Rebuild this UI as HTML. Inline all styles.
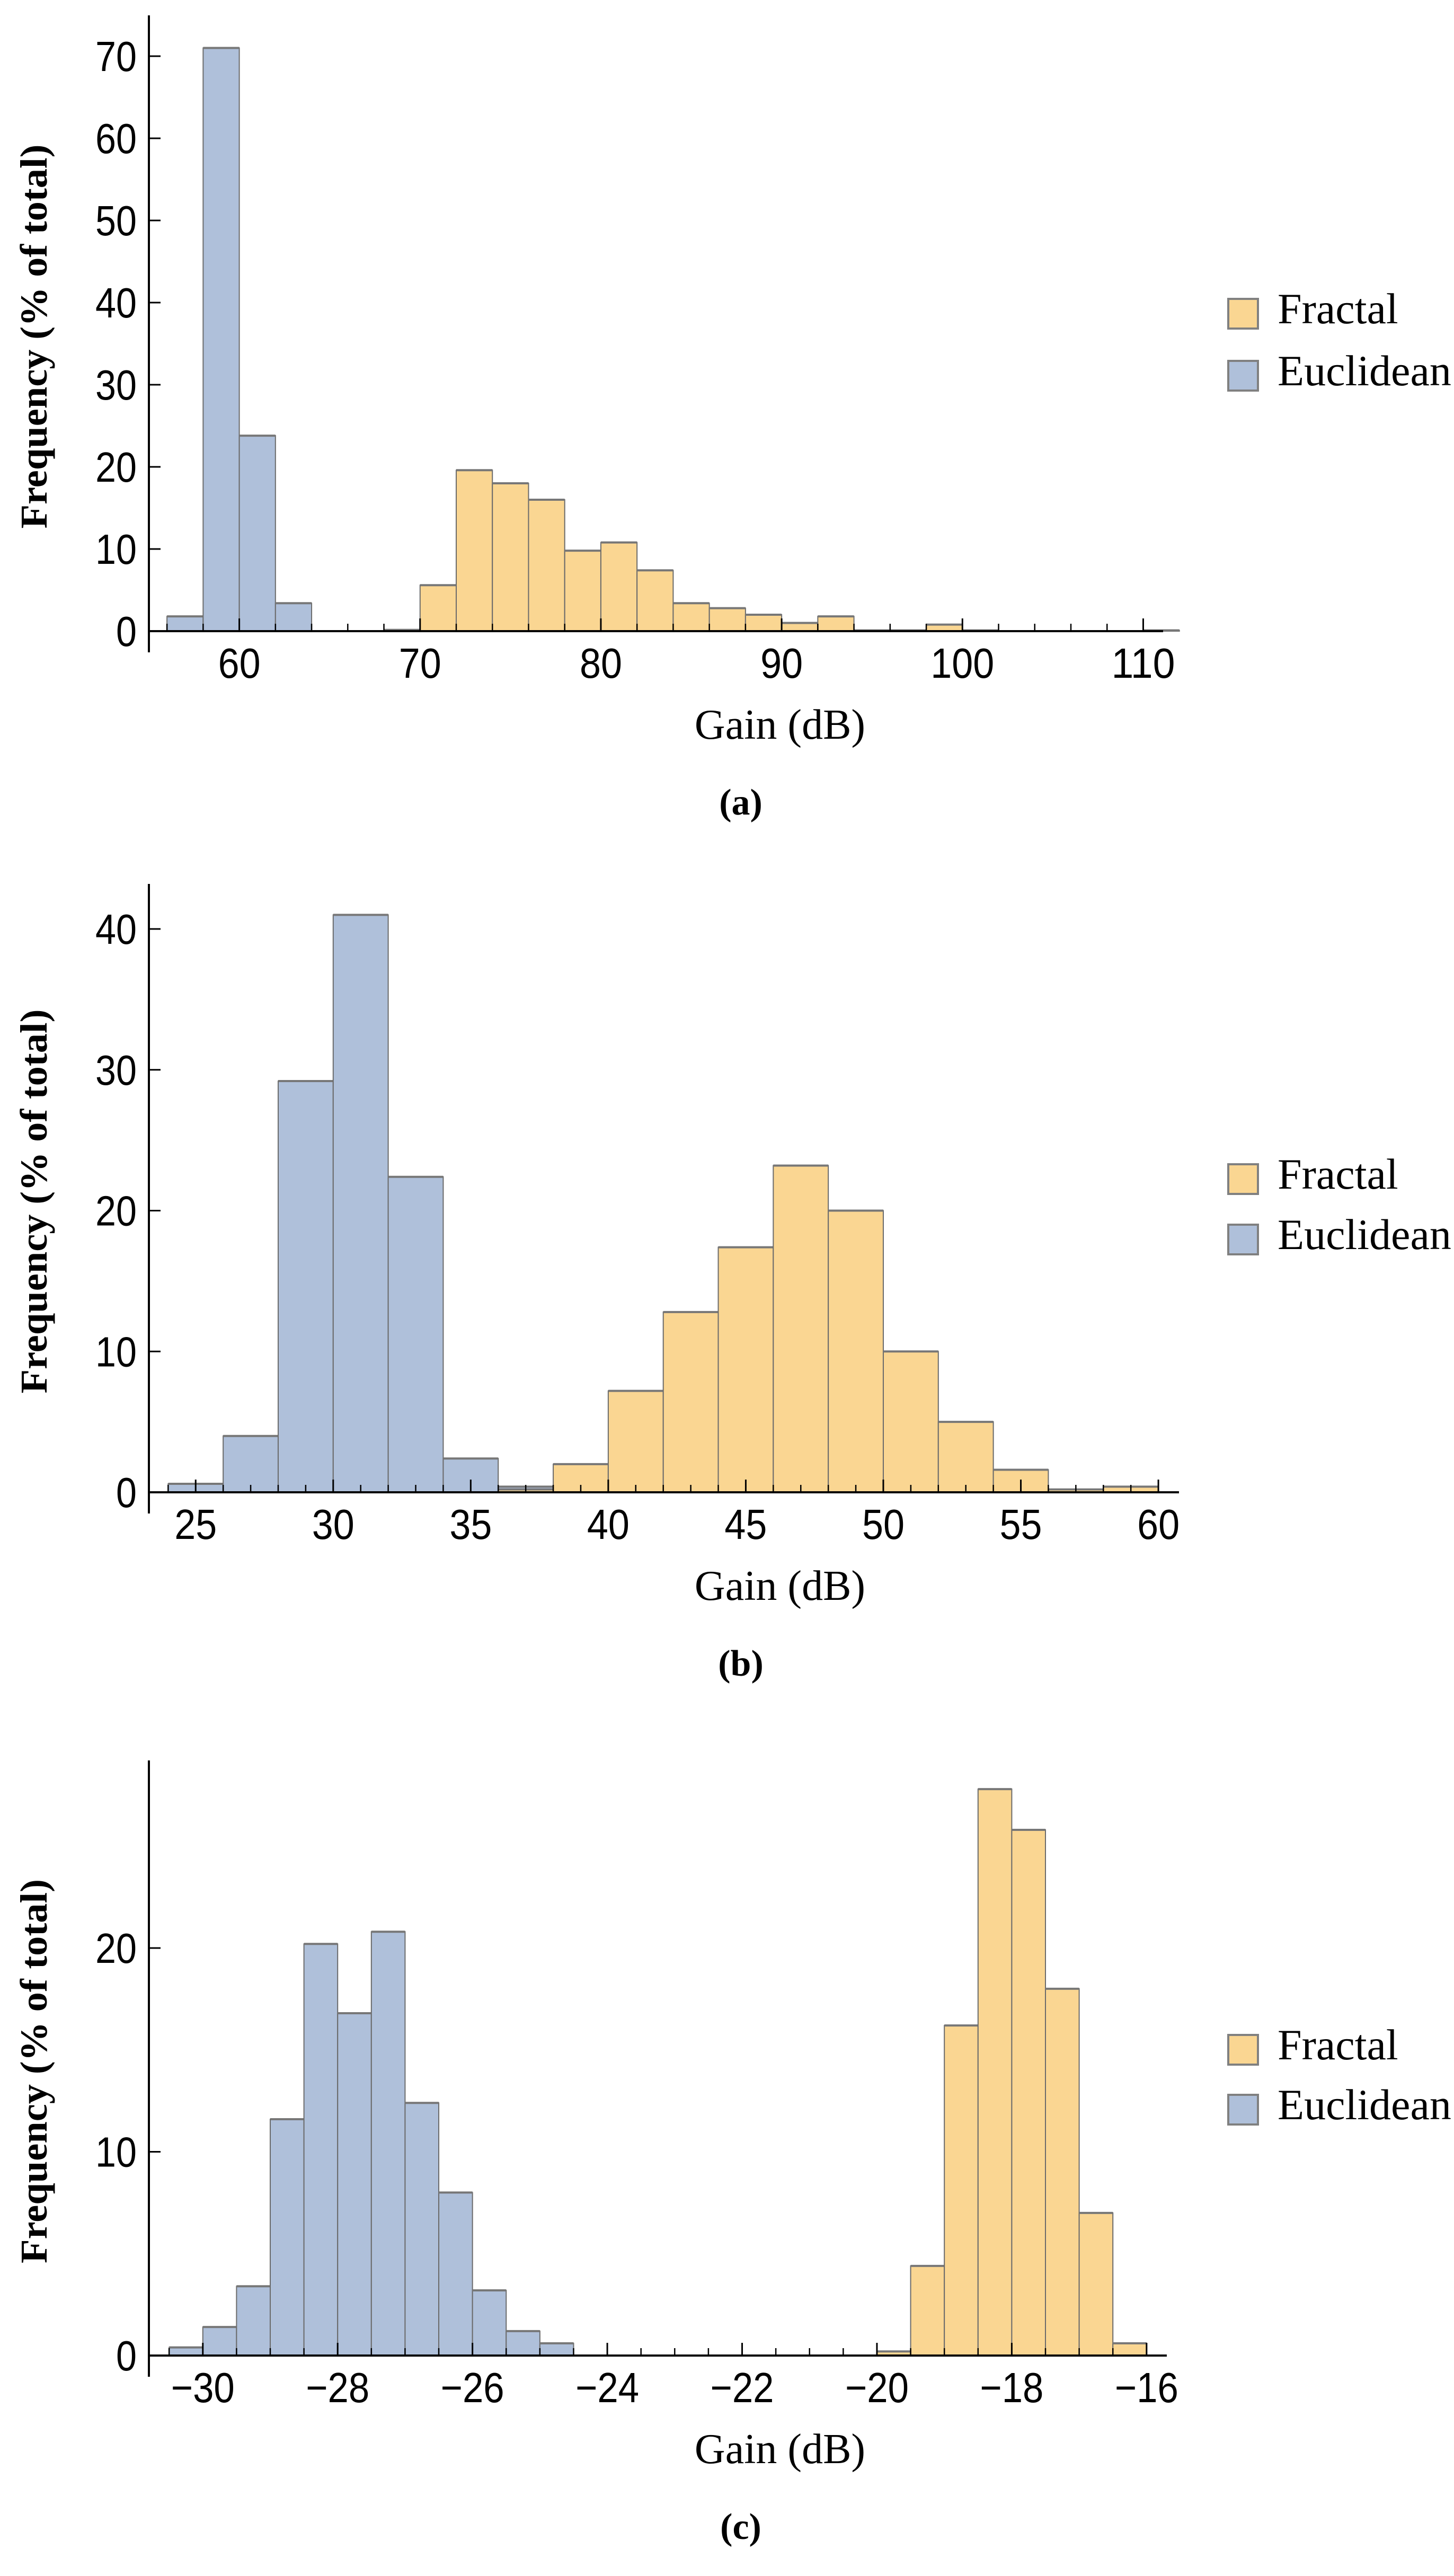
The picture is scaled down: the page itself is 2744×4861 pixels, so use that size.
<!DOCTYPE html>
<html><head><meta charset="utf-8"><style>html,body{margin:0;padding:0;background:#fff}svg{display:block}</style></head>
<body>
<svg id="fig" xmlns="http://www.w3.org/2000/svg" width="2744" height="4861" viewBox="0 0 2744 4861"></svg>
<script>
// Panel (a)
const aBinStart=56, aBinWidth=2;
const aEuclid=[1.8,71,23.8,3.4];
const aFracStart=68;
const aFractal=[0.15,5.6,19.6,18,16,9.8,10.8,7.4,3.4,2.8,2.0,1.0,1.8,0.1,0.1,0.8,0.1,0,0,0,0,0.1];
const aXTicks=[60,70,80,90,100,110];
const aYTicks=[0,10,20,30,40,50,60,70];
// Panel (b)
const bBinStart=24, bBinWidth=2;
const bEuclid=[0.6,4,29.2,41,22.4,2.4,0.4];
const bFracStart=36;
const bFractal=[0.2,2.0,7.2,12.8,17.4,23.2,20,10,5,1.6,0.2,0.4];
const bXTicks=[25,30,35,40,45,50,55,60];
const bYTicks=[0,10,20,30,40];
// Panel (c)
const cBinStart=-30.5, cBinWidth=0.5;
const cEuclid=[0.4,1.4,3.4,11.6,20.2,16.8,20.8,12.4,8,3.2,1.2,0.6];
const cFracStart=-20;
const cFractal=[0.2,4.4,16.2,27.8,25.8,18,7,0.6];
const cXTicks=[-30,-28,-26,-24,-22,-20,-18,-16];
const cYTicks=[0,10,20];

const NS="http://www.w3.org/2000/svg";
const svg=document.getElementById('fig');
function mk(tag,attrs,parent){const e=document.createElementNS(NS,tag);for(const k in attrs)e.setAttribute(k,attrs[k]);(parent||svg).appendChild(e);return e;}

const FR="#fad692", EU="#afc0da";
const panels=[
 {id:'a',cap:'(a)',x0:55,x1:111.1,y0:1191,yPer:15.5,yTop:29,xL:281,xR:2195,
  binStart:aBinStart,bw:aBinWidth,eu:aEuclid,frStart:aFracStart,fr:aFractal,xt:aXTicks,yt:aYTicks,minor:2,
  leg:[564,681]},
 {id:'b',cap:'(b)',x0:23.3,x1:60.75,y0:2816,yPer:26.575,yTop:1668,xL:281,xR:2225,
  binStart:bBinStart,bw:bBinWidth,eu:bEuclid,frStart:bFracStart,fr:bFractal,xt:bXTicks,yt:bYTicks,minor:1,
  leg:[2197,2311]},
 {id:'c',cap:'(c)',x0:-30.8,x1:-15.7,y0:4445,yPer:38.45,yTop:3322,xL:281,xR:2202,
  binStart:cBinStart,bw:cBinWidth,eu:cEuclid,frStart:cFracStart,fr:cFractal,xt:cXTicks,yt:cYTicks,minor:0.5,
  leg:[3840,3953]}
];

panels.forEach(p=>{
  const g=mk('g',{});
  
  
  const X=v=>p.xL+(v-p.x0)/(p.x1-p.x0)*(p.xR-p.xL);
  const Y=v=>p.y0-v*p.yPer;
  function bars(arr,start,fill,name){
    arr.forEach((v,i)=>{
      const a=X(start+i*p.bw), b=X(start+(i+1)*p.bw);
      const r=mk('rect',{x:a,y:Y(v),width:b-a,height:Math.max(p.y0-Y(v),0.5),fill:fill,stroke:'#6b6b6b','stroke-width':2},g);
      
      
      const t=mk('line',{x1:a,y1:Y(v),x2:b,y2:Y(v),stroke:'#777','stroke-width':4},g);
      
      
    });
  }
  bars(p.eu,p.binStart,EU,'euclidean');
  bars(p.fr,p.frStart,FR,'fractal');
  const xa=mk('line',{x1:p.xL,y1:p.y0,x2:p.xR,y2:p.y0,stroke:'#000','stroke-width':4},g);
  
  
  const ya=mk('line',{x1:p.xL,y1:p.yTop,x2:p.xL,y2:p.y0+40,stroke:'#000','stroke-width':4},g);
  
  
  const n=Math.round((p.x1-p.x0)/p.minor)+2;
  const first=Math.ceil(p.x0/p.minor)*p.minor;
  for(let i=0;i<n;i++){const v=first+i*p.minor; if(v>p.x1)break;
    const major=p.xt.some(t=>Math.abs(t-v)<1e-6);
    mk('line',{x1:X(v),y1:p.y0,x2:X(v),y2:p.y0-(major?24:14),stroke:'#000','stroke-width':major?3:2.5},g);}
  p.xt.forEach(t=>{
    const s=(t<0?'\u2212'+Math.abs(t):String(t));
    const tx=mk('text',{x:X(t),y:p.y0+88,'text-anchor':'middle','font-family':'Liberation Sans, sans-serif','font-size':80,textLength:(s.length)*40,lengthAdjust:'spacingAndGlyphs'},g);
    tx.textContent=s;
    
    
  });
  p.yt.forEach(t=>{
    mk('line',{x1:p.xL,y1:Y(t),x2:p.xL+22,y2:Y(t),stroke:'#000','stroke-width':3},g);
    const s=String(t);
    const tx=mk('text',{x:258,y:Y(t)+28,'text-anchor':'end','font-family':'Liberation Sans, sans-serif','font-size':80,textLength:s.length*39,lengthAdjust:'spacingAndGlyphs'},g);
    tx.textContent=s;
    
    
  });
  const cy=(p.yTop+p.y0)/2+25;
  const yl=mk('text',{x:0,y:0,transform:`translate(88,${cy}) rotate(-90)`,'text-anchor':'middle','font-family':'Liberation Serif, serif','font-weight':'bold','font-size':72,textLength:725,lengthAdjust:'spacingAndGlyphs'},g);
  yl.textContent='Frequency (% of total)';
  
  
  const xl=mk('text',{x:1472,y:p.y0+203,'text-anchor':'middle','font-family':'Liberation Serif, serif','font-size':80},g);
  xl.textContent='Gain (dB)';
  
  
  const cp=mk('text',{x:1398,y:p.y0+346,'text-anchor':'middle','font-family':'Liberation Serif, serif','font-weight':'bold','font-size':70},g);
  cp.textContent=p.cap;
  
  
  [['Fractal',FR],['Euclidean',EU]].forEach((L,i)=>{
    const yy=p.leg[i];
    const sw=mk('rect',{x:2318,y:yy,width:56,height:56,fill:L[1],stroke:'#808080','stroke-width':4},g);
    
    
    const t=mk('text',{x:2411,y:yy+46,'font-family':'Liberation Serif, serif','font-size':82},g);
    t.textContent=L[0];
    
    
  });
});
</script>
</body></html>
